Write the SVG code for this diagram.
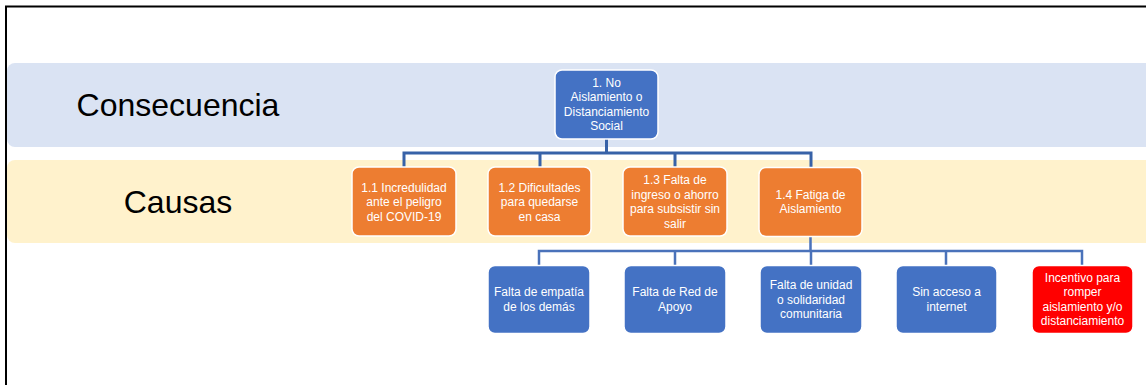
<svg xmlns="http://www.w3.org/2000/svg" width="1146" height="385" viewBox="0 0 1146 385">
<style>
.band-c{fill:#DAE3F3}
.band-y{fill:#FFF2CC}
.big{font-family:"Liberation Sans",Arial,sans-serif;font-size:32px;fill:#000;text-anchor:middle}
.box{stroke:#fff;stroke-width:1.5}
.blue{fill:#4472C4}
.orange{fill:#ED7D31}
.red{fill:#FF0000}
.t{font-family:"Liberation Sans",Arial,sans-serif;font-size:12px;fill:#fff;text-anchor:middle;dominant-baseline:central}
.c1{fill:none;stroke:#3762A8;stroke-width:3}
.c2{fill:none;stroke:#4A72BA;stroke-width:2.5}
</style>
<rect width="1146" height="385" fill="#fff"/>
<g id="frame">
<path d="M6 385 V6.5 H1146" fill="none" stroke="#000" stroke-width="2"/>
</g>
<g id="band-consecuencia">
<rect class="band-c" x="7" y="63" width="1150" height="84" rx="8"/>
<text class="big" x="178" y="116">Consecuencia</text>
</g>
<g id="band-causas">
<rect class="band-y" x="7" y="160" width="1150" height="83" rx="8"/>
<text class="big" x="178" y="213">Causas</text>
</g>
<g id="connectors">
<path class="c1" d="M606.5 139 V153 M404 168 V153 H811 V168 M540 168 V153 M675 168 V153"/>
<path class="c2" d="M810.5 237 V251 M539 266 V251 H1082 V266 M675 266 V251 M811 266 V251 M946 266 V251"/>
</g>
<g id="n1">
<rect class="box blue" x="555" y="70" width="103" height="69" rx="7"/>
<text class="t" x="606.5" y="82.6">1. No</text>
<text class="t" x="606.5" y="97.2">Aislamiento o</text>
<text class="t" x="606.5" y="111.8">Distanciamiento</text>
<text class="t" x="606.5" y="126.4">Social</text>
</g>
<g id="n1-1">
<rect class="box orange" x="352" y="167" width="104" height="69" rx="7"/>
<text class="t" x="404" y="187.7">1.1 Incredulidad</text>
<text class="t" x="404" y="202.3">ante el peligro</text>
<text class="t" x="404" y="216.9">del COVID-19</text>
</g>
<g id="n1-2">
<rect class="box orange" x="488" y="167" width="103" height="69" rx="7"/>
<text class="t" x="539.5" y="187.7">1.2 Dificultades</text>
<text class="t" x="539.5" y="202.3">para quedarse</text>
<text class="t" x="539.5" y="216.9">en casa</text>
</g>
<g id="n1-3">
<rect class="box orange" x="623" y="167" width="104" height="69" rx="7"/>
<text class="t" x="675" y="180.1">1.3 Falta de</text>
<text class="t" x="675" y="194.7">ingreso o ahorro</text>
<text class="t" x="675" y="209.3">para subsistir sin</text>
<text class="t" x="675" y="223.9">salir</text>
</g>
<g id="n1-4">
<rect class="box orange" x="759" y="167.5" width="103" height="69" rx="7"/>
<text class="t" x="810.5" y="194.7">1.4 Fatiga de</text>
<text class="t" x="810.5" y="209.3">Aislamiento</text>
</g>
<g id="n1-4-1">
<rect class="box blue" x="488" y="265.5" width="102" height="68" rx="7"/>
<text class="t" x="539" y="292.2">Falta de empatía</text>
<text class="t" x="539" y="306.8">de los demás</text>
</g>
<g id="n1-4-2">
<rect class="box blue" x="624" y="265.5" width="102" height="68" rx="7"/>
<text class="t" x="675" y="292.2">Falta de Red de</text>
<text class="t" x="675" y="306.8">Apoyo</text>
</g>
<g id="n1-4-3">
<rect class="box blue" x="760" y="265.5" width="102" height="68" rx="7"/>
<text class="t" x="811" y="284.9">Falta de unidad</text>
<text class="t" x="811" y="299.5">o solidaridad</text>
<text class="t" x="811" y="314.1">comunitaria</text>
</g>
<g id="n1-4-4">
<rect class="box blue" x="896" y="265.5" width="101" height="68" rx="7"/>
<text class="t" x="946.5" y="292.2">Sin acceso a</text>
<text class="t" x="946.5" y="306.8">internet</text>
</g>
<g id="n1-4-5">
<rect class="box red" x="1032" y="265.5" width="101" height="68" rx="7"/>
<text class="t" x="1082.5" y="277.6">Incentivo para</text>
<text class="t" x="1082.5" y="292.2">romper</text>
<text class="t" x="1082.5" y="306.8">aislamiento y/o</text>
<text class="t" x="1082.5" y="321.4">distanciamiento</text>
</g>
</svg>
